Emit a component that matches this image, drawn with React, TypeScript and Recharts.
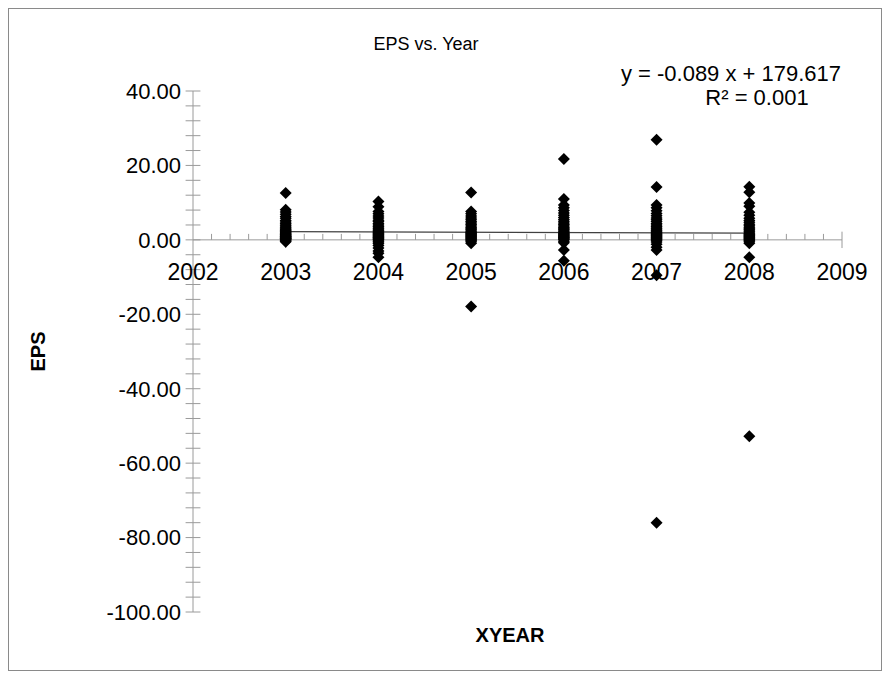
import React from 'react';
import { ScatterChart, Scatter, XAxis, YAxis, ReferenceLine, ReferenceDot } from 'recharts';

const FONT = '"Liberation Sans", Arial, sans-serif';
const AXIS = '#9a9a9a';

// EPS values read per year
const eps2003 = [12.6, 8.1, 7.5, 6.9, 6.3, 5.8, 5.2, 4.8, 4.4, 4.0, 3.7, 3.4, 3.1, 2.8, 2.6, 2.4, 2.2, 2.0, 1.8, 1.6, 1.5, 1.3, 1.2, 1.0, 0.9, 0.8, 0.6, 0.5, 0.4, 0.3, 0.2, 0.1, -0.1, -0.3, -0.5];
const eps2004 = [10.3, 8.9, 7.6, 7.0, 6.4, 5.9, 5.3, 4.9, 4.4, 4.0, 3.6, 3.2, 2.9, 2.6, 2.3, 2.0, 1.8, 1.6, 1.4, 1.2, 1.0, 0.8, 0.6, 0.4, 0.2, 0.0, -0.3, -0.6, -1.0, -1.5, -2.2, -3.0, -3.6, -4.7];
const eps2005 = [12.7, 7.6, 7.0, 6.4, 5.9, 5.4, 4.9, 4.5, 4.1, 3.7, 3.3, 3.0, 2.7, 2.4, 2.1, 1.9, 1.7, 1.5, 1.3, 1.1, 0.9, 0.7, 0.5, 0.3, 0.1, -0.2, -0.5, -0.9, -17.9];
const eps2006 = [21.7, 11.0, 9.4, 8.6, 7.9, 7.2, 6.6, 6.0, 5.5, 5.0, 4.5, 4.1, 3.7, 3.3, 3.0, 2.7, 2.4, 2.1, 1.8, 1.6, 1.4, 1.2, 1.0, 0.8, 0.6, 0.4, 0.2, 0.0, -0.4, -0.8, -2.7, -5.6];
const eps2007 = [26.9, 14.2, 9.4, 8.6, 7.8, 7.1, 6.5, 5.9, 5.4, 4.9, 4.4, 4.0, 3.6, 3.2, 2.9, 2.6, 2.3, 2.0, 1.7, 1.5, 1.3, 1.1, 0.9, 0.7, 0.5, 0.3, 0.1, -0.2, -0.6, -1.2, -2.0, -2.7, -9.5, -76.0];
const eps2008 = [14.3, 12.8, 9.9, 9.0, 7.4, 6.6, 5.8, 5.2, 4.7, 4.2, 3.8, 3.4, 3.0, 2.7, 2.4, 2.1, 1.8, 1.5, 1.3, 1.1, 0.9, 0.7, 0.5, 0.3, 0.1, -0.2, -0.5, -0.9, -4.7, -52.8];

const years = [2003, 2004, 2005, 2006, 2007, 2008];
const epsByYear = [eps2003, eps2004, eps2005, eps2006, eps2007, eps2008];

const xTicks = [2002, 2003, 2004, 2005, 2006, 2007, 2008, 2009];
const yTicks = [-100, -80, -60, -40, -20, 0, 20, 40];

// trend line as drawn
const trendX = [2003, 2008];
const trendY = [2.2, 1.8];

const points = years.flatMap((yr, i) => epsByYear[i].map((v) => ({ x: yr, y: v })));
const trend = trendX.map((x, i) => ({ x, y: trendY[i] }));

const xMinor: number[] = [];
for (let i = 1; i < 35; i++) if (i % 5 !== 0) xMinor.push(Math.round((2002 + i * 0.2) * 10) / 10);
const yMinor: number[] = [];
for (let v = -100; v <= 40; v += 4) yMinor.push(v);

const Diamond = (props: any) => {
  const { cx, cy } = props;
  if (cx == null || cy == null) return <g />;
  const r = 6;
  return <polygon points={`${cx},${cy - r} ${cx + r},${cy} ${cx},${cy + r} ${cx - r},${cy}`} fill="#000" />;
};

const textBox = (left: number, top: number, width: number, size: number, bold = false): React.CSSProperties => ({
  position: 'absolute',
  left,
  top,
  width,
  textAlign: 'center',
  fontSize: size,
  lineHeight: 1,
  fontWeight: bold ? 'bold' : 'normal',
  fontFamily: FONT,
  color: '#000',
  whiteSpace: 'nowrap',
});

export default function App() {
  return (
    <div style={{ position: 'relative', width: 874, height: 663, border: '1px solid #8a8a8a', boxSizing: 'border-box', background: '#fff' }}>
      <ScatterChart width={872} height={661} margin={{ top: 82, right: 39, bottom: 58, left: 0 }}>
        <XAxis type="number" dataKey="x" domain={[2002, 2009]} hide />
        <YAxis
          type="number"
          dataKey="y"
          domain={[-100, 40]}
          ticks={yTicks}
          tickFormatter={(v: number) => v.toFixed(2)}
          width={184}
          tickSize={8}
          tickMargin={4}
          tickLine={false}
          axisLine={{ stroke: AXIS }}
          tick={{ fill: '#000', fontSize: 22, fontFamily: FONT }}
          label={{ value: 'EPS', angle: -90, position: 'insideLeft', offset: 29, style: { textAnchor: 'middle', fontWeight: 'bold', fontSize: 20, fill: '#000', fontFamily: FONT } }}
        />
        <ReferenceLine y={0} stroke={AXIS} ifOverflow="visible" />
        {yMinor.map((v) => (
          <ReferenceLine key={'y' + v} segment={[{ x: 2001.92, y: v }, { x: 2002.08, y: v }]} stroke={AXIS} ifOverflow="visible" />
        ))}
        {xMinor.map((v) => (
          <ReferenceLine key={'xm' + v} segment={[{ x: v, y: 0 }, { x: v, y: 1.6 }]} stroke={AXIS} ifOverflow="visible" />
        ))}
        {xTicks.slice(1).map((v) => (
          <ReferenceLine key={'xM' + v} segment={[{ x: v, y: -2.2 }, { x: v, y: 2.2 }]} stroke={AXIS} ifOverflow="visible" />
        ))}
        {xTicks.map((v) => (
          <ReferenceDot
            key={'xl' + v}
            x={v}
            y={0}
            r={0}
            ifOverflow="visible"
            label={{ value: String(v), position: 'bottom', offset: 24, style: { fill: '#000', fontSize: 23, fontFamily: FONT } }}
          />
        ))}
        <Scatter data={trend} line={{ stroke: '#404040', strokeWidth: 1.2 }} shape={() => <g />} isAnimationActive={false} />
        <Scatter data={points} shape={Diamond} isAnimationActive={false} />
      </ScatterChart>
      <div style={textBox(317, 26, 200, 18)}>EPS vs. Year</div>
      <div style={textBox(572, 54, 300, 22)}>y = -0.089 x + 179.617</div>
      <div style={textBox(648, 78, 200, 22)}>R² = 0.001</div>
      <div style={textBox(401, 616, 200, 20, true)}>XYEAR</div>
    </div>
  );
}
